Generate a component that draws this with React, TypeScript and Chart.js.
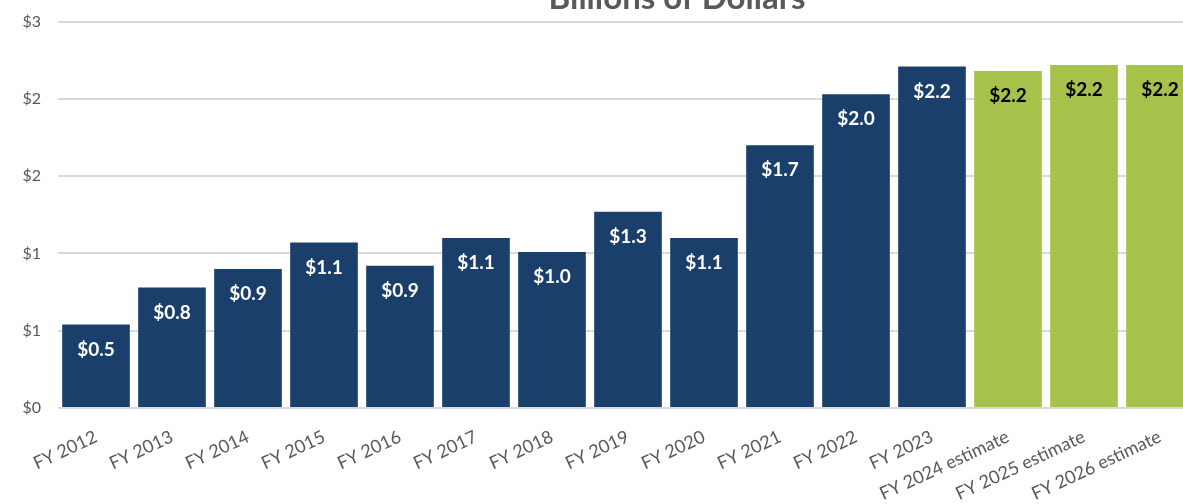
import React, { useEffect, useRef } from "react";
import { Chart, registerables } from "chart.js";

Chart.register(...registerables);

const categories = [
  "FY 2012", "FY 2013", "FY 2014", "FY 2015", "FY 2016", "FY 2017", "FY 2018",
  "FY 2019", "FY 2020", "FY 2021", "FY 2022", "FY 2023",
  "FY 2024 estimate", "FY 2025 estimate", "FY 2026 estimate",
];
const values = [0.54, 0.78, 0.9, 1.07, 0.92, 1.1, 1.01, 1.27, 1.1, 1.7, 2.03, 2.21, 2.18, 2.22, 2.22];
const isEstimate = [false, false, false, false, false, false, false, false, false, false, false, false, true, true, true];
const yTickValues = [0, 0.5, 1, 1.5, 2, 2.5];
const yTickLabels = ["$0", "$1", "$1", "$2", "$2", "$3"];
const titleText = "Billions of Dollars";

const NAVY = "#1a3f6b";
const GREEN = "#a6c24a";
const FONT = "Lato, 'Open Sans', sans-serif";
const SHIFT = 5;

export default function App() {
  const ref = useRef<HTMLCanvasElement | null>(null);
  useEffect(() => {
    if (!ref.current) return;
    const labelPlugin = {
      id: "valueLabels",
      afterDatasetsDraw(chart: any) {
        const ctx = chart.ctx;
        const meta = chart.getDatasetMeta(0);
        ctx.save();
        ctx.font = `bold 19px ${FONT}`;
        ctx.textAlign = "center";
        ctx.textBaseline = "middle";
        meta.data.forEach((bar: any, i: number) => {
          ctx.fillStyle = isEstimate[i] ? "#000000" : "#ffffff";
          ctx.fillText("$" + values[i].toFixed(1), bar.x, bar.y + 25);
        });
        ctx.restore();
      },
    };
    const titlePlugin = {
      id: "cutTitle",
      afterDraw(chart: any) {
        const ctx = chart.ctx;
        ctx.save();
        ctx.font = `bold 33px ${FONT}`;
        ctx.fillStyle = "#595959";
        ctx.textAlign = "center";
        ctx.textBaseline = "alphabetic";
        ctx.fillText(titleText, 677, 9 + SHIFT);
        ctx.restore();
      },
    };
    const chart = new Chart(ref.current, {
      type: "bar",
      data: {
        labels: categories,
        datasets: [
          {
            data: values,
            backgroundColor: isEstimate.map((e) => (e ? GREEN : NAVY)),
            borderWidth: 0,
            barPercentage: 0.89,
            categoryPercentage: 1,
          },
        ],
      },
      options: {
        responsive: false,
        animation: false,
        layout: { padding: { left: 0, right: 2, top: 11, bottom: 0 } },
        plugins: { legend: { display: false }, tooltip: { enabled: false }, title: { display: false } },
        scales: {
          x: {
            grid: { display: false },
            border: { display: false },
            afterFit: (axis: any) => {
              axis.height = 96;
            },
            ticks: {
              color: "#595959",
              font: { family: FONT, size: 18 },
              minRotation: 25,
              maxRotation: 25,
              autoSkip: false,
              padding: 10,
            },
          },
          y: {
            min: 0,
            max: 2.5,
            afterFit: (axis: any) => {
              axis.width = 58;
            },
            afterBuildTicks: (axis: any) => {
              axis.ticks = yTickValues.map((v) => ({ value: v }));
            },
            grid: { color: "#d9d9d9", lineWidth: 2, drawTicks: false },
            border: { display: false },
            ticks: {
              color: "#595959",
              font: { family: FONT, size: 16 },
              padding: 17,
              callback: (_v: any, i: number) => yTickLabels[i],
            },
          },
        },
      },
      plugins: [labelPlugin, titlePlugin],
    });
    return () => chart.destroy();
  }, []);
  return (
    <div style={{ position: "fixed", left: 0, top: 0, width: 1183, height: 504, overflow: "hidden", background: "#fff" }}>
      <canvas
        ref={ref}
        width={1200}
        height={504 + SHIFT}
        style={{ position: "absolute", left: 0, top: -SHIFT, width: 1200, height: 504 + SHIFT, display: "block" }}
      />
    </div>
  );
}
